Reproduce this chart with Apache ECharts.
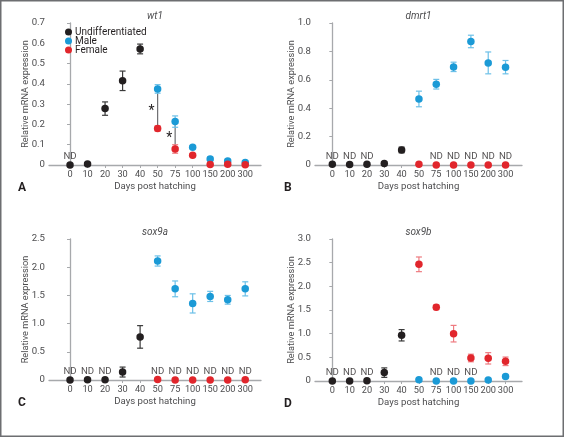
<!DOCTYPE html>
<html>
<head>
<meta charset="utf-8">
<script src="https://cdn.jsdelivr.net/npm/echarts@6/dist/echarts.min.js"></script>
<style>
html,body{margin:0;padding:0;background:#fff;}
#chart{width:564px;height:437px;}
</style>
</head>
<body>
<div id="chart"></div>
<script>
// ---------- data ----------
const categories = ['0','10','20','30','40','50','75','100','150','200','300'];

// Panel A: wt1
const wt1Undiff    = [0, 0.005, 0.278, 0.415, 0.572, null, null, null, null, null, null];
const wt1UndiffErr = [0, 0, 0.033, 0.048, 0.024, null, null, null, null, null, null];
const wt1Male      = [null, null, null, null, null, 0.375, 0.214, 0.087, 0.030, 0.020, 0.012];
const wt1MaleErr   = [null, null, null, null, null, 0.021, 0.028, 0.007, 0.010, 0.009, 0.006];
const wt1Female    = [null, null, null, null, null, 0.180, 0.079, 0.048, 0.003, 0.004, 0.001];
const wt1FemaleErr = [null, null, null, null, null, 0.013, 0.021, 0.005, 0.008, 0.008, 0.005];
const wt1ND = [0];
const wt1Sig = [5, 6];

// Panel B: dmrt1
const dmrt1Undiff    = [0.005, 0.004, 0.005, 0.011, 0.106, null, null, null, null, null, null];
const dmrt1UndiffErr = [0, 0, 0, 0.010, 0.020, null, null, null, null, null, null];
const dmrt1Male      = [null, null, null, null, null, 0.465, 0.569, 0.691, 0.870, 0.719, 0.689];
const dmrt1MaleErr   = [null, null, null, null, null, 0.055, 0.034, 0.033, 0.044, 0.077, 0.047];
const dmrt1Female    = [null, null, null, null, null, 0.005, 0, 0, 0, 0, 0];
const dmrt1FemaleErr = [null, null, null, null, null, 0, 0, 0, 0, 0, 0];
const dmrt1ND = [0, 1, 2, 6, 7, 8, 9, 10];

// Panel C: sox9a
const sox9aUndiff    = [0, 0.005, 0.005, 0.141, 0.764, null, null, null, null, null, null];
const sox9aUndiffErr = [0, 0, 0, 0.088, 0.200, null, null, null, null, null, null];
const sox9aMale      = [null, null, null, null, null, 2.110, 1.616, 1.358, 1.482, 1.422, 1.616];
const sox9aMaleErr   = [null, null, null, null, null, 0.090, 0.140, 0.170, 0.090, 0.077, 0.125];
const sox9aFemale    = [null, null, null, null, null, 0.010, 0, 0, 0, 0, 0.005];
const sox9aFemaleErr = [null, null, null, null, null, 0, 0, 0, 0, 0, 0];
const sox9aND = [0, 1, 2, 5, 6, 7, 8, 9, 10];

// Panel D: sox9b
const sox9bUndiff    = [0, 0, 0.005, 0.177, 0.966, null, null, null, null, null, null];
const sox9bUndiffErr = [0, 0, 0, 0.100, 0.120, null, null, null, null, null, null];
const sox9bMale      = [null, null, null, null, null, 0.028, 0, 0, 0, 0.020, 0.093];
const sox9bMaleErr   = [null, null, null, null, null, 0.010, 0, 0, 0, 0.010, 0.008];
const sox9bFemale    = [null, null, null, null, null, 2.465, 1.557, 1.000, 0.486, 0.479, 0.416];
const sox9bFemaleErr = [null, null, null, null, null, 0.155, 0.050, 0.175, 0.080, 0.120, 0.090];
const sox9bND = [0, 1, 2, 6, 7, 8];

const yTicksA = [0, 0.1, 0.2, 0.3, 0.4, 0.5, 0.6, 0.7];
const yTicksB = [0, 0.2, 0.4, 0.6, 0.8, 1.0];
const yTicksC = [0, 0.5, 1.0, 1.5, 2.0, 2.5];
const yTicksD = [0, 0.5, 1.0, 1.5, 2.0, 2.5, 3.0];

// ---------- styles ----------
const FONT = "Roboto, 'Liberation Sans', Arial, sans-serif";
const C_UND = '#231f20', C_MALE = '#1b9ad6', C_FEM = '#e1262c';
const E_UND = '#3a3a3a', E_MALE = '#6cc0e8', E_FEM = '#ee7b80';
const AXIS = '#a7a9ac', LABEL = '#4d4d4f';

const panels = [
  {letter:'A', title:'wt1', yTicks:yTicksA, xmin:-1.2, xmax:10.9,
   grid:{left:49, right:303, top:23, bottom:272},
   und:[wt1Undiff, wt1UndiffErr], male:[wt1Male, wt1MaleErr], fem:[wt1Female, wt1FemaleErr],
   nd:wt1ND, sig:wt1Sig, femOnTop:true},
  {letter:'B', title:'dmrt1', yTicks:yTicksB, xmin:-1.0, xmax:10.95,
   grid:{left:315, right:42, top:23, bottom:272},
   und:[dmrt1Undiff, dmrt1UndiffErr], male:[dmrt1Male, dmrt1MaleErr], fem:[dmrt1Female, dmrt1FemaleErr],
   nd:dmrt1ND, sig:[], femOnTop:true},
  {letter:'C', title:'sox9a', yTicks:yTicksC, xmin:-1.2, xmax:10.9,
   grid:{left:49, right:303, top:239, bottom:57},
   und:[sox9aUndiff, sox9aUndiffErr], male:[sox9aMale, sox9aMaleErr], fem:[sox9aFemale, sox9aFemaleErr],
   nd:sox9aND, sig:[], femOnTop:true},
  {letter:'D', title:'sox9b', yTicks:yTicksD, xmin:-1.0, xmax:10.95,
   grid:{left:315, right:42, top:239, bottom:56},
   und:[sox9bUndiff, sox9bUndiffErr], male:[sox9bMale, sox9bMaleErr], fem:[sox9bFemale, sox9bFemaleErr],
   nd:sox9bND, sig:[], femOnTop:false}
];

const idx = categories.map((c, i) => i);
const grids = [], xAxes = [], yAxes = [], series = [], titles = [], graphics = [];

function pts(vals) {
  const out = [];
  vals.forEach((v, i) => { if (v !== null && v !== undefined) out.push([i, v]); });
  return out;
}
function errPts(vals, errs) {
  const out = [];
  vals.forEach((v, i) => { if (v !== null && errs[i]) out.push([i, v - errs[i], v + errs[i]]); });
  return out;
}
function errSeries(k, vals, errs, color) {
  return {
    type:'custom', xAxisIndex:k, yAxisIndex:k, silent:true, z:2,
    data: errPts(vals, errs),
    encode:{x:0, y:[1,2]},
    renderItem: function (params, api) {
      const x = api.value(0);
      const lo = api.coord([x, api.value(1)]);
      const hi = api.coord([x, api.value(2)]);
      const w = 3;
      const st = {stroke:color, lineWidth:1.2};
      return {type:'group', children:[
        {type:'line', shape:{x1:lo[0], y1:lo[1], x2:hi[0], y2:hi[1]}, style:st},
        {type:'line', shape:{x1:lo[0]-w, y1:lo[1], x2:lo[0]+w, y2:lo[1]}, style:st},
        {type:'line', shape:{x1:hi[0]-w, y1:hi[1], x2:hi[0]+w, y2:hi[1]}, style:st}
      ]};
    }
  };
}
function dotSeries(k, name, vals, color, z) {
  return {type:'scatter', name:name, xAxisIndex:k, yAxisIndex:k, symbol:'circle', symbolSize:7.5,
          itemStyle:{color:color, opacity:1}, z:z, data:pts(vals), silent:true};
}

panels.forEach((p, k) => {
  grids.push(Object.assign({containLabel:false}, p.grid));
  xAxes.push({
    type:'value', gridIndex:k, min:p.xmin, max:p.xmax,
    splitLine:{show:false},
    axisLine:{show:true, onZero:false, lineStyle:{color:AXIS, width:1.3}},
    axisTick:{show:true, customValues:idx, length:3, inside:false, lineStyle:{color:AXIS, width:1}},
    axisLabel:{customValues:idx, formatter:v => categories[Math.round(v)], color:LABEL,
               fontFamily:FONT, fontSize:9.2, margin:5, hideOverlap:false,
               showMinLabel:true, showMaxLabel:true},
    name:'Days post hatching', nameLocation:'middle', nameGap:17, nameMoveOverlap:false,
    nameTextStyle:{color:LABEL, fontFamily:FONT, fontSize:9.6}
  });
  const yMax = p.yTicks[p.yTicks.length - 1];
  yAxes.push({
    type:'value', gridIndex:k, min:0, max:yMax,
    splitLine:{show:false},
    axisLine:{show:true, lineStyle:{color:AXIS, width:1.3}},
    axisTick:{show:true, customValues:p.yTicks, length:3, lineStyle:{color:AXIS, width:1}},
    axisLabel:{customValues:p.yTicks, formatter:v => (v === 0 ? '0' : v.toFixed(1)), color:LABEL,
               fontFamily:FONT, fontSize:9.6, margin:4, hideOverlap:false,
               showMinLabel:true, showMaxLabel:true},
    name:'Relative mRNA expression', nameLocation:'middle', nameGap:19, nameRotate:90,
    nameMoveOverlap:false,
    nameTextStyle:{color:LABEL, fontFamily:FONT, fontSize:9.2}
  });

  // significance lines
  if (p.sig.length) {
    const sigData = p.sig.map(i => [i, p.fem[0][i], p.male[0][i]]);
    series.push({
      type:'custom', xAxisIndex:k, yAxisIndex:k, silent:true, z:1,
      data:sigData, encode:{x:0, y:[1,2]},
      renderItem: function (params, api) {
        const x = api.value(0);
        const a = api.coord([x, api.value(1)]);
        const b = api.coord([x, api.value(2)]);
        return {type:'group', children:[
          {type:'line', shape:{x1:a[0], y1:a[1], x2:b[0], y2:b[1]}, style:{stroke:'#6d6e71', lineWidth:1.2}},
          {type:'text', x:a[0]-6, y:(a[1]+b[1])/2 + 3,
           style:{text:'*', fill:'#231f20', font:'14px ' + FONT, align:'center', verticalAlign:'middle'}}
        ]};
      }
    });
  }

  series.push(errSeries(k, p.und[0], p.und[1], E_UND));
  series.push(errSeries(k, p.male[0], p.male[1], E_MALE));
  series.push(errSeries(k, p.fem[0], p.fem[1], E_FEM));
  series.push(dotSeries(k, 'Undifferentiated', p.und[0], C_UND, 5));
  series.push(dotSeries(k, 'Male', p.male[0], C_MALE, p.femOnTop ? 4 : 6));
  series.push(dotSeries(k, 'Female', p.fem[0], C_FEM, p.femOnTop ? 6 : 4));

  // ND labels
  series.push({
    type:'scatter', xAxisIndex:k, yAxisIndex:k, symbolSize:0, silent:true, z:7,
    data:p.nd.map(i => [i, 0]),
    label:{show:true, formatter:'ND', position:'top', distance:3, color:'#231f20',
           fontFamily:FONT, fontSize:9.6}
  });

  // titles (gene name, italic) and panel letters
  const gx = p.grid.left + (564 - p.grid.left - p.grid.right) / 2;
  titles.push({
    text:p.title, left:gx, top:p.grid.top - 12, textAlign:'center', padding:0,
    textStyle:{fontStyle:'italic', fontWeight:'normal', fontSize:10, color:'#4d4d4f', fontFamily:FONT}
  });
  graphics.push({
    type:'text', left:p.grid.left - 31, top:437 - p.grid.bottom + 17,
    style:{text:p.letter, font:'bold 12px ' + FONT, fill:'#231f20'}
  });
});

graphics.push({type:'rect', shape:{x:0.75, y:0.75, width:562.5, height:435.5},
               style:{fill:null, stroke:'#6d6e71', lineWidth:1.5}, z:100});

const chart = echarts.init(document.getElementById('chart'), null, {renderer:'canvas'});
chart.setOption({
  animation:false,
  backgroundColor:'#ffffff',
  title:titles,
  grid:grids,
  xAxis:xAxes,
  yAxis:yAxes,
  legend:{
    data:['Undifferentiated', 'Male', 'Female'],
    orient:'vertical', left:65, top:27, icon:'circle', itemWidth:7, itemHeight:7, itemGap:-1,
    textStyle:{fontFamily:FONT, fontSize:10, color:'#231f20', padding:[0,0,0,-2]},
    selectedMode:false, padding:0
  },
  graphic:graphics,
  series:series
});
</script>
</body>
</html>
